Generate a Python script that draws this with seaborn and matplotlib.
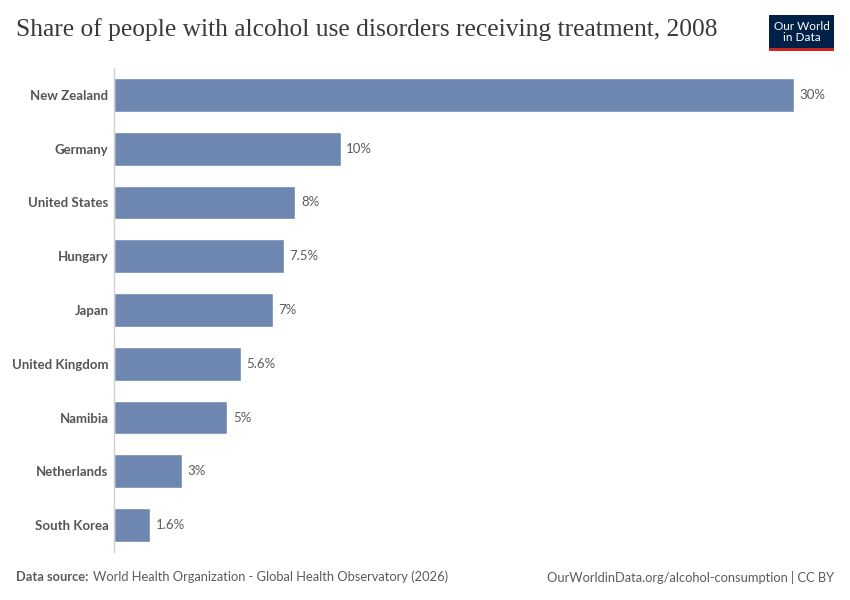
import matplotlib
matplotlib.use("Agg")
import matplotlib.pyplot as plt
import pandas as pd
import seaborn as sns
from matplotlib.patches import Rectangle

countries = ["New Zealand", "Germany", "United States", "Hungary", "Japan",
             "United Kingdom", "Namibia", "Netherlands", "South Korea"]
shares = [30, 10, 8, 7.5, 7, 5.6, 5, 3, 1.6]
value_labels = ["30%", "10%", "8%", "7.5%", "7%", "5.6%", "5%", "3%", "1.6%"]

TITLE = "Share of people with alcohol use disorders receiving treatment, 2008"
SOURCE = "World Health Organization - Global Health Observatory (2026)"
URL = "OurWorldinData.org/alcohol-consumption | CC BY"
BAR_COLOR = "#6d87b0"
TEXT_COLOR = "#5b5b5b"

sns.set_style("white")
plt.rcParams["font.family"] = ["Lato", "DejaVu Sans"]

df = pd.DataFrame({"country": countries, "share": shares})

W, H = 850, 600
fig = plt.figure(figsize=(W / 100, H / 100), dpi=100)
ax = fig.add_axes([114 / W, (H - 552) / H, 680 / W, 484 / H])

sns.barplot(data=df, x="share", y="country", color=BAR_COLOR, width=0.63,
            saturation=1, ax=ax)

ax.set_xlim(0, 30)
ax.set_ylim(len(countries) - 0.5, -0.5)
ax.set_xlabel("")
ax.set_ylabel("")
ax.set_xticks([])
ax.tick_params(axis="y", length=0, pad=4)
for lbl in ax.get_yticklabels():
    lbl.set_fontsize(9.5)
    lbl.set_fontweight("bold")
    lbl.set_color("#555555")

for side in ["top", "right", "bottom"]:
    ax.spines[side].set_visible(False)
ax.spines["left"].set_color("#d0d0d0")
ax.spines["left"].set_linewidth(1)

for i, (v, txt) in enumerate(zip(shares, value_labels)):
    ax.annotate(txt, xy=(v, i), xytext=(4, 0), textcoords="offset points",
                va="center", ha="left", fontsize=9.5, color=TEXT_COLOR,
                clip_on=False)

fig.text(16 / W, 1 - 30 / H, TITLE, family=["Liberation Serif", "DejaVu Serif"],
         fontsize=18.4, fontweight="medium", color="#3a3a3a", va="center", ha="left")

# logo
fig.patches.append(Rectangle((769 / W, 1 - 51 / H), 65 / W, 36 / H,
                             transform=fig.transFigure, facecolor="#002147",
                             edgecolor="none"))
fig.patches.append(Rectangle((769 / W, 1 - 51 / H), 65 / W, 3 / H,
                             transform=fig.transFigure, facecolor="#ce261e",
                             edgecolor="none"))
fig.text(801.5 / W, 1 - 32 / H, "Our World\nin Data", color="white", fontsize=8.5,
         ha="center", va="center", linespacing=1.0)

fig.text(16 / W, 1 - 577 / H, "Data source:", fontsize=9.3, fontweight="bold",
         color=TEXT_COLOR, va="center", ha="left")
fig.text(93 / W, 1 - 577 / H, SOURCE, fontsize=9.3, color=TEXT_COLOR,
         va="center", ha="left")
fig.text(834 / W, 1 - 577 / H, URL, fontsize=9.3, color=TEXT_COLOR,
         va="center", ha="right")

fig.savefig("out.png", dpi=100)
